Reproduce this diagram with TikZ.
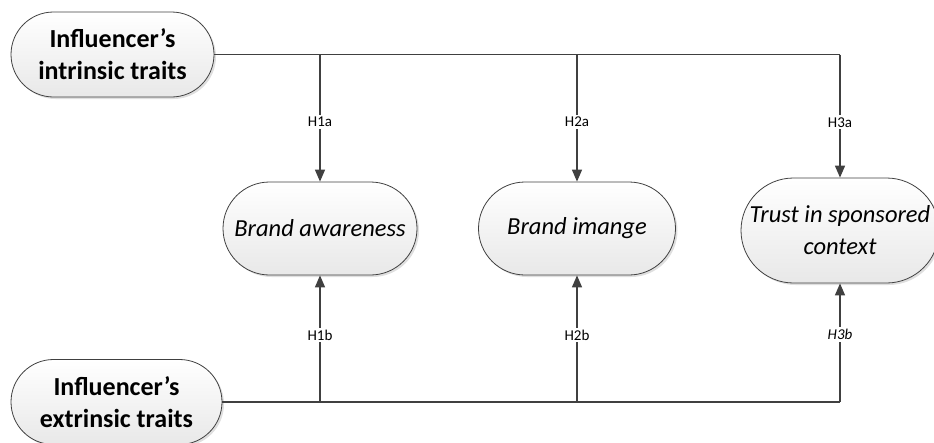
\documentclass[tikz,border=0pt]{standalone}
\usepackage{fontspec}
\setmainfont{Carlito}
\usetikzlibrary{arrows.meta,shadows}
\definecolor{ln}{HTML}{404040}
\tikzset{
  pill/.style={draw=ln, line width=0.8pt, rounded corners=#1, top color=white, bottom color=black!9,
    drop shadow={opacity=0.25, shadow xshift=2pt, shadow yshift=-2pt}, align=center, inner sep=0pt},
  bigtxt/.style={font=\fontsize{26}{32}\selectfont\bfseries},
  midtxt/.style={font=\fontsize{24.5}{32}\selectfont\itshape},
  conn/.style={draw=ln, line width=1.5pt},
  arr/.style={conn, -{Triangle[width=10pt,length=12pt]}},
  lbl/.style={fill=white, inner sep=2pt, font=\fontsize{15}{17}\selectfont, text=black}
}
\begin{document}
\begin{tikzpicture}[x=1pt,y=-1pt]
\useasboundingbox (0,0) rectangle (934,442);
\node[pill=42.5pt, bigtxt, minimum width=203pt, minimum height=85pt] (intr) at (112.5,54.5) {Influencer’s\\intrinsic traits};
\node[pill=42.5pt, bigtxt, minimum width=211pt, minimum height=85pt] (extr) at (116.5,402) {Influencer’s\\extrinsic traits};
\node[pill=46.5pt, midtxt, minimum width=194pt, minimum height=93pt] (ba) at (320,228.5) {Brand awareness};
\node[pill=46.5pt, midtxt, minimum width=197pt, minimum height=93pt] (bi) at (577,228.5) {Brand imange};
\node[pill=52.5pt, midtxt, minimum width=198pt, minimum height=105pt] (tr) at (840,230.5) {Trust in sponsored\\context};
\coordinate (t1) at (ba.north |- intr.east);
\coordinate (t2) at (bi.north |- intr.east);
\coordinate (t3) at (tr.north |- intr.east);
\coordinate (b1) at (ba.south |- extr.east);
\coordinate (b2) at (bi.south |- extr.east);
\coordinate (b3) at (tr.south |- extr.east);
\draw[conn] (intr.east) -- (t3);
\draw[conn] (extr.east) -- (b3);
\draw[arr] (t1) -- node[lbl, pos=0.53] {H1a} (ba.north);
\draw[arr] (t2) -- node[lbl, pos=0.53] {H2a} (bi.north);
\draw[arr] (t3) -- node[lbl, pos=0.55] {H3a} (tr.north);
\draw[arr] (b1) -- node[lbl, pos=0.53] {H1b} (ba.south);
\draw[arr] (b2) -- node[lbl, pos=0.53] {H2b} (bi.south);
\draw[arr] (b3) -- node[lbl, pos=0.57, font=\fontsize{15}{17}\selectfont\itshape] {H3b} (tr.south);
\end{tikzpicture}
\end{document}
